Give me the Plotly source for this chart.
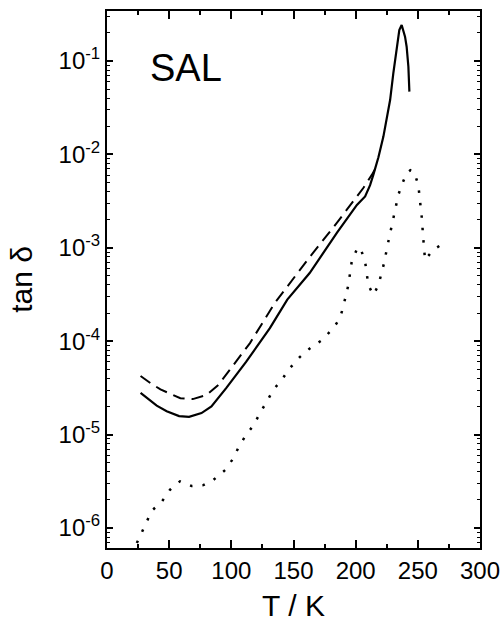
import plotly.graph_objects as go

# ---- data ----
solid_T = [27, 33, 40, 48, 58, 66, 76, 84, 96, 112, 131, 145, 163, 185, 201,
           207.6, 211.6, 214.2, 218.3, 222.3, 227.7, 230.3, 233, 235.1, 237,
           239.7, 241, 242.4, 243.2]
solid_tand = [2.79e-5, 2.43e-5, 2.04e-5, 1.78e-5, 1.58e-5, 1.55e-5, 1.70e-5,
              2.00e-5, 3.16e-5, 6.03e-5, 1.38e-4, 2.79e-4, 5.37e-4, 1.45e-3,
              2.88e-3, 3.55e-3, 4.68e-3, 6.03e-3, 9.33e-3, 1.55e-2, 3.82e-2,
              7.41e-2, 0.145, 0.214, 0.243, 0.182, 0.142, 0.087, 0.047]

dashed_T = [27, 35, 43, 52, 59, 69, 80, 89.5, 101.6, 115, 135, 163, 185, 206,
            213, 216]
dashed_tand = [4.24e-5, 3.55e-5, 3.05e-5, 2.69e-5, 2.45e-5, 2.40e-5, 2.65e-5,
               3.39e-5, 5.56e-5, 9.55e-5, 2.57e-4, 7.94e-4, 1.86e-3, 4.34e-3,
               6.03e-3, 7.08e-3]

dotted_T = [24, 28, 36, 44, 50.7, 58.7, 68, 77.5, 85.5, 95, 101.6, 106, 112,
            118, 123, 128.4, 133.8, 140.5, 147, 155, 164.6, 172.7, 182, 187.4,
            190, 194.1, 196.8, 200.8, 202.5, 204.3, 207.6, 210.2, 214.2, 218.3,
            222.8, 226.3, 230.3, 234.3, 237, 241, 244, 247, 250.4, 253.1, 254.5,
            255.8, 262.5, 273.2]
dotted_tand = [6.9e-7, 9.1e-7, 1.53e-6, 1.91e-6, 2.57e-6, 3.16e-6, 2.82e-6,
               2.88e-6, 3.27e-6, 4.17e-6, 5.57e-6, 7.41e-6, 1.0e-5, 1.26e-5,
               1.70e-5, 2.24e-5, 3.02e-5, 3.85e-5, 5.13e-5, 6.76e-5, 8.71e-5,
               1.02e-4, 1.38e-4, 1.76e-4, 2.34e-4, 3.98e-4, 7.08e-4, 9.55e-4,
               1.02e-3, 9.55e-4, 7.08e-4, 3.98e-4, 3.13e-4, 3.98e-4, 6.82e-4,
               1.17e-3, 2.09e-3, 3.67e-3, 4.68e-3, 6.31e-3, 6.76e-3, 6.53e-3,
               4.68e-3, 2.15e-3, 1.20e-3, 7.41e-4, 9.55e-4, 1.17e-3]

y_tickvals = [1e-6, 1e-5, 1e-4, 1e-3, 1e-2, 1e-1]
y_ticktext = ["10<sup>-6</sup>", "10<sup>-5</sup>", "10<sup>-4</sup>",
              "10<sup>-3</sup>", "10<sup>-2</sup>", "10<sup>-1</sup>"]
x_tickvals = [0, 50, 100, 150, 200, 250, 300]
x_ticktext = ["0", "50", "100", "150", "200", "250", "300"]

y_minor = [k * 10.0 ** d for d in range(-7, 0) for k in range(2, 10)]

FONT = "Arial, Liberation Sans, Helvetica, sans-serif"

fig = go.Figure()
fig.add_trace(go.Scatter(x=dotted_T, y=dotted_tand, mode="lines",
                         line=dict(color="black", width=2.5, dash="2.5px,10px"),
                         showlegend=False))
fig.add_trace(go.Scatter(x=dashed_T, y=dashed_tand, mode="lines",
                         line=dict(color="black", width=2, dash="12px,7px"),
                         showlegend=False))
fig.add_trace(go.Scatter(x=solid_T, y=solid_tand, mode="lines",
                         line=dict(color="black", width=2.2),
                         showlegend=False))

fig.add_annotation(text="SAL", x=0.11, y=0.894, xref="paper", yref="paper",
                   xanchor="left", yanchor="middle", showarrow=False,
                   font=dict(family=FONT, size=38, color="black"))

fig.update_layout(
    width=504, height=622,
    margin=dict(l=107, r=24, t=11, b=74),
    paper_bgcolor="white", plot_bgcolor="white",
    font=dict(family=FONT, color="black"),
    xaxis=dict(
        range=[0, 300], tickmode="array", tickvals=x_tickvals, ticktext=x_ticktext,
        ticks="inside", ticklen=8, tickwidth=1.5, tickcolor="black",
        minor=dict(dtick=25, tick0=0, ticks="inside", ticklen=4, tickwidth=1.5,
                   tickcolor="black", showgrid=False),
        showline=True, linecolor="black", linewidth=2, mirror="ticks",
        showgrid=False, zeroline=False, automargin=False,
        tickfont=dict(family=FONT, size=24, color="black"),
        title=dict(text="T / K", font=dict(family=FONT, size=30, color="black"),
                   standoff=13),
    ),
    yaxis=dict(
        type="log", range=[-6.214, -0.465],
        tickmode="array", tickvals=y_tickvals, ticktext=y_ticktext,
        ticks="inside", ticklen=6, tickwidth=1.5, tickcolor="black",
        minor=dict(tickmode="array", tickvals=y_minor, ticks="inside", ticklen=3,
                   tickwidth=1, tickcolor="black", showgrid=False),
        showline=True, linecolor="black", linewidth=2, mirror="ticks",
        showgrid=False, zeroline=False, automargin=False,
        tickfont=dict(family=FONT, size=24, color="black"),
        title=dict(text="tan δ", font=dict(family=FONT, size=30, color="black"),
                   standoff=17),
    ),
)

fig.write_html("out.html", config={"displayModeBar": False},
               post_script="document.body.style.margin='0';document.body.style.padding='0';")
